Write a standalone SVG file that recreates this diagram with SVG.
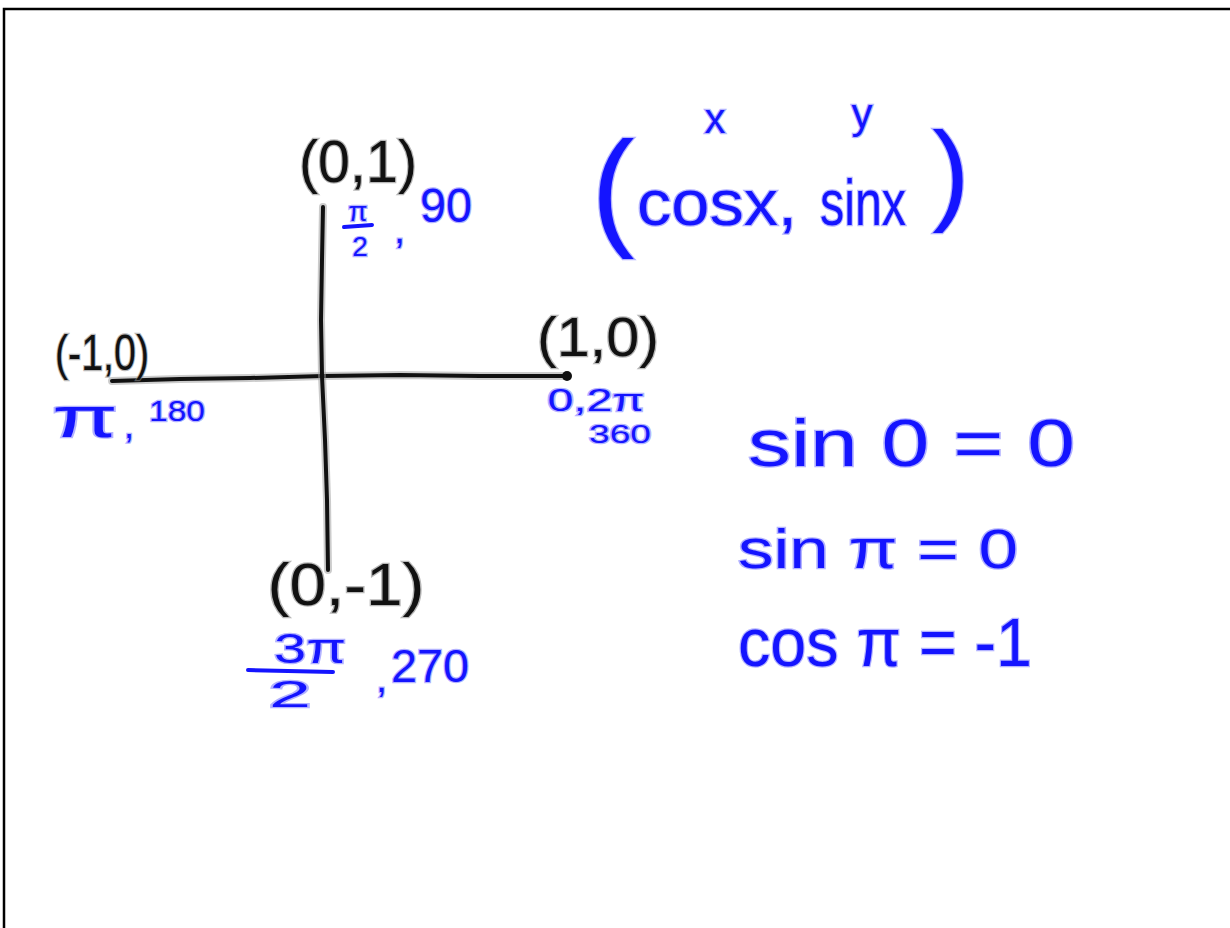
<svg xmlns="http://www.w3.org/2000/svg" width="1230" height="928" viewBox="0 0 1230 928">
<defs>
<style>
.bk{font-family:"Liberation Sans",Arial,sans-serif;fill:#111;stroke:#888;stroke-width:2.5;stroke-opacity:.6;paint-order:stroke}
.bl{font-family:"Liberation Sans",Arial,sans-serif;fill:#1414ff;stroke:#8080ff;stroke-width:2.5;stroke-opacity:.6;paint-order:stroke}
.axis{fill:none;stroke:#111;stroke-width:4;stroke-linecap:round;stroke-linejoin:round}
.axish{fill:none;stroke:#999;stroke-width:8;stroke-opacity:.5;stroke-linecap:round;stroke-linejoin:round}
.bline{fill:none;stroke:#1414ff;stroke-width:4;stroke-linecap:round}
</style>
</defs>
<rect x="0" y="0" width="1230" height="928" fill="#fff"/>
<rect x="4" y="9" width="1240" height="940" fill="none" stroke="#000" stroke-width="2.5"/>

<g id="connectors">
<polyline class="axish" points="112,381 180,379 250,378 323,376 400,375 480,376 567,376"/>
<polyline class="axis" points="112,381 180,379 250,378 323,376 400,375 480,376 567,376"/>
<polyline class="axish" points="323,207 322,260 321,320 322,376 325,440 327,500 328,570"/>
<polyline class="axis" points="323,207 322,260 321,320 322,376 325,440 327,500 328,570"/>
<circle cx="567" cy="376" r="5" fill="#111"/>
</g>

<g id="top-point">
<text class="bk" x="358" y="182" font-size="60" text-anchor="middle" textLength="118" lengthAdjust="spacingAndGlyphs">(0,1)</text>
<text class="bl" x="358" y="221" font-size="28" text-anchor="middle">π</text>
<line class="bline" x1="344" y1="227" x2="372" y2="225"/>
<text class="bl" x="360" y="256" font-size="28" text-anchor="middle">2</text>
<text class="bl" x="394" y="243" font-size="40">,</text>
<text class="bl" x="446" y="222" font-size="48" text-anchor="middle" textLength="52" lengthAdjust="spacingAndGlyphs">90</text>
</g>

<g id="left-point">
<text class="bk" x="102" y="370" font-size="50" text-anchor="middle" textLength="94" lengthAdjust="spacingAndGlyphs">(-1,0)</text>
<text class="bl" x="85" y="437" font-size="58" text-anchor="middle" textLength="66" lengthAdjust="spacingAndGlyphs">π</text>
<text class="bl" x="124" y="438" font-size="36">,</text>
<text class="bl" x="177" y="421" font-size="30" text-anchor="middle" textLength="56" lengthAdjust="spacingAndGlyphs">180</text>
</g>

<g id="right-point">
<text class="bk" x="598" y="356" font-size="56" text-anchor="middle" textLength="122" lengthAdjust="spacingAndGlyphs">(1,0)</text>
<text class="bl" x="596" y="411" font-size="32" text-anchor="middle" textLength="97" lengthAdjust="spacingAndGlyphs">0,2π</text>
<text class="bl" x="620" y="443" font-size="26" text-anchor="middle" textLength="62" lengthAdjust="spacingAndGlyphs">360</text>
</g>

<g id="bottom-point">
<text class="bk" x="346" y="605" font-size="60" text-anchor="middle" textLength="157" lengthAdjust="spacingAndGlyphs">(0,-1)</text>
<text class="bl" x="310" y="663" font-size="42" text-anchor="middle" textLength="72" lengthAdjust="spacingAndGlyphs">3π</text>
<line class="bline" x1="248" y1="670" x2="333" y2="672"/>
<text class="bl" x="290" y="707" font-size="36" text-anchor="middle" textLength="42" lengthAdjust="spacingAndGlyphs">2</text>
<text class="bl" x="376" y="692" font-size="40">,</text>
<text class="bl" x="430" y="682" font-size="46" text-anchor="middle" textLength="78" lengthAdjust="spacingAndGlyphs">270</text>
</g>

<g id="formula">
<text class="bl" x="613" y="232" font-size="130" text-anchor="middle">(</text>
<text class="bl" x="715" y="133" font-size="42" text-anchor="middle">x</text>
<text class="bl" x="862" y="128" font-size="42" text-anchor="middle">y</text>
<text class="bl" x="637" y="225" font-size="64" textLength="160" lengthAdjust="spacingAndGlyphs">cosx,</text>
<text class="bl" x="820" y="225" font-size="64" textLength="86" lengthAdjust="spacingAndGlyphs">sinx</text>
<text class="bl" x="951" y="210" font-size="112" text-anchor="middle">)</text>
</g>

<g id="eq-sin0">
<text class="bl" x="748" y="466" font-size="66" textLength="327" lengthAdjust="spacingAndGlyphs">sin 0 = 0</text>
</g>
<g id="eq-sinpi">
<text class="bl" x="738" y="568" font-size="56" textLength="280" lengthAdjust="spacingAndGlyphs">sin π = 0</text>
</g>
<g id="eq-cospi">
<text class="bl" x="738" y="666" font-size="68" textLength="294" lengthAdjust="spacingAndGlyphs">cos π = -1</text>
</g>
</svg>
